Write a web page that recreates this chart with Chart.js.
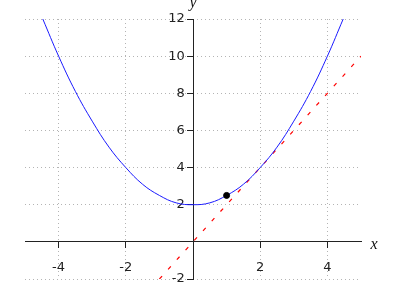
<!DOCTYPE html>
<html>
<head>
<meta charset="utf-8">
<script src="https://cdn.jsdelivr.net/npm/chart.js@4/dist/chart.umd.min.js"></script>
<style>
  body { margin: 0; background: #fff; }
  #wrap { width: 400px; height: 300px; }
</style>
</head>
<body>
<div id="wrap"><canvas id="parabolaChart" width="400" height="300"></canvas></div>
<script>
// values
const curveX = [-4.47, -4, -3.5, -3, -2.5, -2, -1.5, -1, -0.5, 0, 0.5, 1, 1.5, 2, 2.5, 3, 3.5, 4, 4.47];
const curveY = [12, 10, 8.1, 6.5, 5.1, 4, 3.1, 2.5, 2.1, 2, 2.1, 2.5, 3.1, 4, 5.1, 6.5, 8.1, 10, 12];
const tangentX = [-1, 5];
const tangentY = [-2, 10];
const markX = [1];
const markY = [2.5];
const xTicks = [-4, -2, 0, 2, 4];
const yTicks = [-2, 0, 2, 4, 6, 8, 10, 12];

function toPoints(xs, ys) {
    return xs.map((x, i) => ({ x: x, y: ys[i] }));
}

// italic x / y labels next to the axes
const axisNames = {
    id: 'axisNames',
    afterDraw(chart) {
        const { ctx, chartArea, scales } = chart;
        ctx.save();
        ctx.fillStyle = '#111';
        ctx.font = 'italic 16px "Liberation Serif", serif';
        ctx.textAlign = 'center';
        ctx.textBaseline = 'alphabetic';
        ctx.fillText('x', chartArea.right + 13, scales.y.getPixelForValue(0) + 7);
        ctx.fillText('y', scales.x.getPixelForValue(0), chartArea.top - 12);
        ctx.restore();
    }
};

function gridOptions() {
    return {
        color: '#b4b4b4',
        lineWidth: 1,
        tickColor: '#222',
        tickWidth: 1,
        tickBorderDash: [],
        tickLength: 6
    };
}

// in v4 the grid line dash lives under border
function borderOptions() {
    return { display: true, color: '#222', width: 1, dash: [1, 3] };
}

const ctx = document.getElementById('parabolaChart');
new Chart(ctx, {
    type: 'scatter',
    data: {
        datasets: [
            {
                data: toPoints(markX, markY),
                backgroundColor: '#000',
                borderColor: '#000',
                pointRadius: 3,
                borderWidth: 1,
                order: 0
            },
            {
                data: toPoints(curveX, curveY),
                showLine: true,
                borderColor: '#1a1aff',
                borderWidth: 1,
                pointRadius: 0,
                tension: 0.4,
                order: 1
            },
            {
                data: toPoints(tangentX, tangentY),
                showLine: true,
                borderColor: '#ff0000',
                borderWidth: 1.2,
                borderDash: [4, 9],
                pointRadius: 0,
                order: 2
            }
        ]
    },
    options: {
        responsive: false,
        animation: false,
        events: [],
        layout: { padding: { left: 25, right: 39, top: 19, bottom: 21 } },
        plugins: {
            legend: { display: false },
            tooltip: { enabled: false }
        },
        scales: {
            x: {
                type: 'linear',
                min: -5,
                max: 5,
                position: { y: 0 },
                grid: gridOptions(),
                border: borderOptions(),
                afterBuildTicks: scale => { scale.ticks = xTicks.map(v => ({ value: v })); },
                ticks: {
                    color: '#222',
                    padding: 12,
                    maxRotation: 0,
                    font: { family: 'DejaVu Sans', size: 13 },
                    callback: v => (v === 0 ? '' : v)
                }
            },
            y: {
                type: 'linear',
                min: -2,
                max: 12,
                position: { x: 0 },
                grid: gridOptions(),
                border: borderOptions(),
                afterBuildTicks: scale => { scale.ticks = yTicks.map(v => ({ value: v })); },
                ticks: {
                    color: '#222',
                    font: { family: 'DejaVu Sans', size: 13 },
                    // a y axis placed at x = 0 gets no label offset, so pad with spaces
                    callback: v => (v === 0 ? '' : v + '\u00a0\u00a0')
                }
            }
        }
    },
    plugins: [axisNames]
});
</script>
</body>
</html>
